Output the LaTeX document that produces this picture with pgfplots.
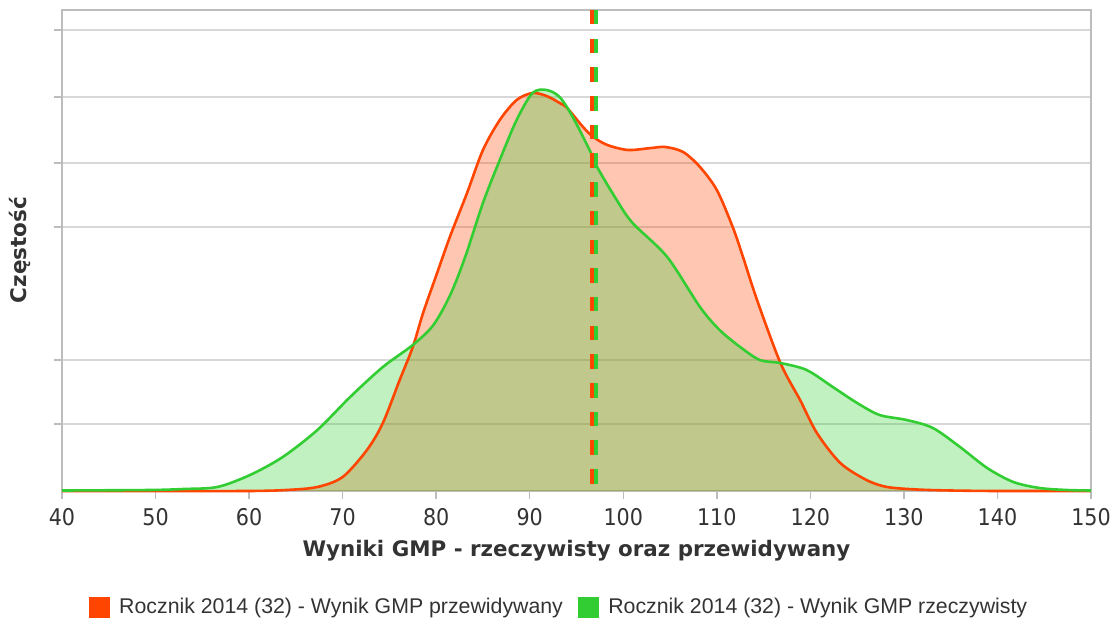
\documentclass[border=0pt]{standalone}
\usepackage{fontspec}
\setmainfont{DejaVu Sans}
\newfontfamily\condfont{DejaVu Sans Condensed}
\newfontfamily\legfont{Liberation Sans}
\usepackage{pgfplots}
\usepackage{pgfplotstable}
\pgfplotsset{compat=1.18}
\definecolor{orC}{RGB}{255,69,0}
\definecolor{grC}{RGB}{50,205,50}
\definecolor{gridC}{RGB}{216,216,216}
\definecolor{axC}{RGB}{189,189,189}
\definecolor{txtC}{RGB}{51,51,51}
\pgfplotstableread{
x y
40 0
50 0
60 0
64 1
67.3 4
70 14
72.6 41
74.3 68
76.1 111
77.5 144
78.6 178
80.1 218
81.5 255
83.3 298
85.0 341
86.8 371
88.6 391
90.3 398
91.8 395
93.2 388
94.0 383
95.7 364
96.8 354
98.3 346
100.5 341
103 343
104.5 344
106.4 339
108.2 324
110 301
111.7 264
112.8 234
114.3 191
116.8 128
118.9 91
120.7 58
123.2 28
126 11
128.2 4
131.4 1.5
135 0.5
140 0
150 0
}\orangedata
\pgfplotstableread{
x y
40 0.5
49.4 1
53 2
56.6 4
60.1 16
63.6 34
67.3 61
70.8 94
74.3 124
77.5 146
79.7 166
81.5 196
83.1 234
85.0 288
86.8 331
88.6 371
90.3 398
91.8 401
93.2 394
94.6 374
96.4 341
97.2 324
99.3 291
101 268
104.7 234
108.2 184
110.3 161
112.5 144
114.6 131
116.8 128
119.6 121
122.4 104
125 88
127.4 76
130.3 71
133.1 63
136 44
138.9 23
141.7 9
144.5 3
147.4 1
150 0.5
}\greendata
\begin{document}
\begin{tikzpicture}
\useasboundingbox (0,0) rectangle (1117pt,621pt);
\begin{axis}[
  at={(62pt,130pt)}, anchor=south west,
  scale only axis, width=1029pt, height=481pt,
  xmin=40, xmax=150, ymin=0, ymax=481,
  xtick={40,50,...,150},
  ytick={67,131,264,328,394,461}, yticklabels={},
  ymajorgrids, major grid style={draw=gridC, line width=1.5pt},
  axis line style={draw=axC, line width=1.5pt},
  tick style={draw=axC, line width=1.5pt},
  major tick length=8pt, tick align=outside,
  xtick pos=bottom, ytick pos=left,
  /pgf/number format/assume math mode=true,
  ticklabel style={font=\condfont\fontsize{23}{27}\selectfont, text=txtC},
  xticklabel style={inner sep=0pt, anchor=north, yshift=-9pt},
  xlabel={Wyniki GMP - rzeczywisty oraz przewidywany},
  xlabel style={font=\bfseries\fontsize{21.4}{25}\selectfont, text=txtC, at={(axis description cs:0.5,-0.1247)}, anchor=center},
  ylabel={Częstość},
  ylabel style={font=\bfseries\fontsize{21.5}{25}\selectfont, text=txtC, at={(axis description cs:-0.041,0.501)}, anchor=center},
  clip=false,
  legend columns=2,
  legend style={at={(axis description cs:0.483,-0.241)}, anchor=center, draw=none, fill=none,
    font=\legfont\fontsize{21.3}{25}\selectfont, text=txtC,
    /tikz/every odd column/.append style={column sep=8pt},
    /tikz/every even column/.append style={column sep=13pt}},
]
\addplot[draw=none, fill=orC, fill opacity=0.3, smooth, forget plot] table {\orangedata} \closedcycle;
\addplot[draw=none, fill=grC, fill opacity=0.3, smooth, forget plot] table {\greendata} \closedcycle;
\addplot[draw=orC, line width=2.6pt, smooth, forget plot] table {\orangedata};
\addplot[draw=grC, line width=2.6pt, smooth, forget plot] table {\greendata};
\addplot[draw=orC, line width=4pt, dash pattern=on 14.5pt off 14.2pt, line cap=butt, forget plot] coordinates {(96.71,481) (96.71,0)};
\addplot[draw=grC, line width=4pt, dash pattern=on 14.5pt off 14.2pt, line cap=butt, forget plot] coordinates {(97.11,481) (97.11,0)};
\addlegendimage{legend image code/.code={\fill[orC] (0pt,-10pt) rectangle (20pt,10pt);}}
\addlegendentry{Rocznik 2014 (32) - Wynik GMP przewidywany}
\addlegendimage{legend image code/.code={\fill[grC] (0pt,-10pt) rectangle (20pt,10pt);}}
\addlegendentry{Rocznik 2014 (32) - Wynik GMP rzeczywisty}
\end{axis}
\end{tikzpicture}
\end{document}
